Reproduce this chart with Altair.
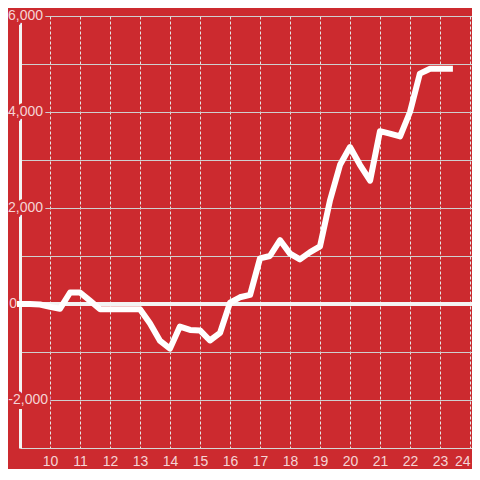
import altair as alt
import pandas as pd

# hour of day (20-minute steps) and series value
hours = [9.0, 9.33, 9.67, 10.0, 10.33, 10.67, 11.0, 11.33, 11.67, 12.0, 12.33, 12.67,
         13.0, 13.33, 13.67, 14.0, 14.33, 14.67, 15.0, 15.33, 15.67, 16.0, 16.33, 16.67,
         17.0, 17.33, 17.67, 18.0, 18.33, 18.67, 19.0, 19.33, 19.67, 20.0, 20.33, 20.67,
         21.0, 21.33, 21.67, 22.0, 22.33, 22.67, 23.0, 23.33]
values = [0, 0, -10, -60, -100, 240, 240, 70, -110, -110, -110, -110,
          -110, -400, -770, -930, -470, -540, -550, -760, -600, 30, 140, 190,
          950, 1000, 1330, 1050, 930, 1080, 1200, 2150, 2900, 3270, 2900, 2570,
          3600, 3550, 3490, 4000, 4800, 4900, 4900, 4900]

x_ticks = [10, 11, 12, 13, 14, 15, 16, 17, 18, 19, 20, 21, 22, 23, 24]
y_grid = [-2000, -1000, 0, 1000, 2000, 3000, 4000, 5000, 6000]
y_label_vals = [-2000, 0, 2000, 4000, 6000]
y_labels = [f"{v:,}" for v in y_label_vals]

BG = "#cc2a2f"
LABEL = "#f5d4d5"
FONT = "Liberation Sans"

df = pd.DataFrame({"hour": hours, "value": values})
lab = pd.DataFrame({"value": y_label_vals, "label": y_labels})

xscale = alt.Scale(domain=[9, 24.0667], nice=False, zero=False)
yscale = alt.Scale(domain=[-3000, 6000], nice=False, zero=False)

line = alt.Chart(df).mark_line(
    color="white", strokeWidth=6, strokeCap="square", strokeJoin="round"
).encode(
    x=alt.X("hour:Q", scale=xscale, axis=alt.Axis(
        values=x_ticks, format="d", title=None, grid=True, gridDash=[3, 2],
        gridColor="#e4e4e4", gridWidth=1, domainColor="#d6d6d6", domainWidth=1,
        ticks=False, tickSize=0, labelPadding=6, labelFontSize=14, labelFont=FONT,
        labelColor=LABEL, labelOverlap=False, labelFlush=10, zindex=0)),
    y=alt.Y("value:Q", scale=yscale, axis=alt.Axis(
        values=y_grid, labels=False, ticks=False, title=None, grid=True,
        gridColor="#cfcfcf", gridWidth=1, domainColor="#f4f4f4", domainWidth=3,
        zindex=0)),
)

zero = alt.Chart(df).mark_rule(color="#f4f4f4", strokeWidth=3).encode(
    y=alt.datum(0, scale=yscale)
)


def label_layer(filt, xpos, halo):
    style = dict(align="right", baseline="middle", fontSize=14, font=FONT, clip=False)
    if halo:
        style.update(fill=BG, stroke=BG, strokeWidth=6)
    else:
        style.update(color=LABEL)
    return alt.Chart(lab).transform_filter(filt).mark_text(**style).encode(
        y=alt.Y("value:Q", scale=yscale), x=alt.value(xpos), text="label:N"
    )


groups = [("datum.value > 0", 23), ("datum.value < 0", 28), ("datum.value == 0", -3)]
layers = [label_layer(f, xp, True) for f, xp in groups]
layers += [label_layer(f, xp, False) for f, xp in groups]

chart = alt.layer(*layers, zero, line).properties(
    width=452, height=432,
    padding={"left": 12, "top": 8, "right": 0, "bottom": 21},
    autosize=alt.AutoSizeParams(type="none"),
    background=BG,
).configure_view(stroke=None)

chart.save("out.html", embed_options={"renderer": "svg", "actions": False})
